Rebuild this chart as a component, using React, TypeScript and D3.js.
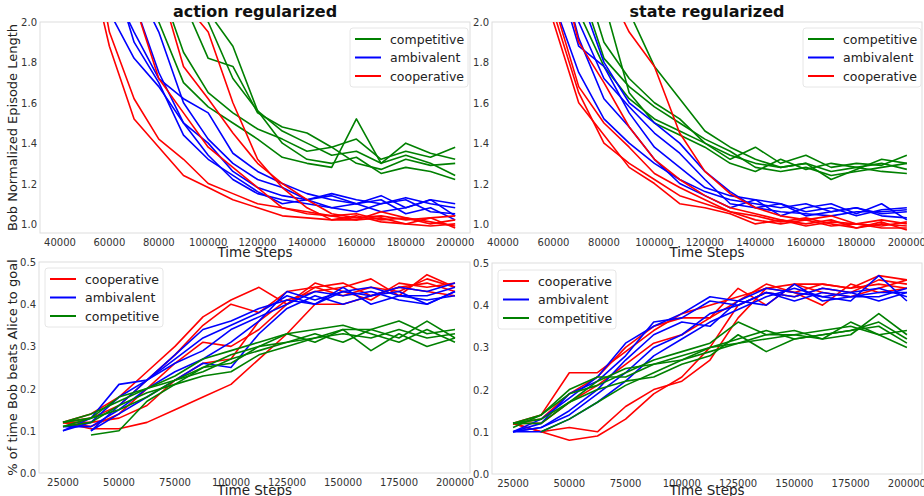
import React from "react";
import * as d3 from "d3";

const topX = [50000, 60000, 70000, 80000, 90000, 100000, 110000, 120000, 130000, 140000, 150000, 160000, 170000, 180000, 190000, 200000];
const botX = [25000, 37500, 50000, 62500, 75000, 87500, 100000, 112500, 125000, 137500, 150000, 162500, 175000, 187500, 200000];

const topXTicks = [40000, 60000, 80000, 100000, 120000, 140000, 160000, 180000, 200000];
const topYTicks = [1.0, 1.2, 1.4, 1.6, 1.8, 2.0];
const botXTicks = [25000, 50000, 75000, 100000, 125000, 150000, 175000, 200000];
const botYTicks = [0.0, 0.1, 0.2, 0.3, 0.4, 0.5];

const titles = ["action regularized", "state regularized"];
const topYLabel = "Bob Normalized Episode Length";
const botYLabel = "% of time Bob beats Alice to goal";
const xLabel = "Time Steps";

type Row = (number | null)[];

const tlGreen: Row[] = [
  [3.2, 3.0, 2.6, 2.2, 1.85, 1.65, 1.55, 1.47, 1.42, 1.36, 1.38, 1.42, 1.32, 1.36, 1.33, 1.38],
  [3.5, 3.2, 2.9, 2.5, 2.1, 1.82, 1.78, 1.55, 1.48, 1.45, 1.38, 1.30, 1.27, 1.32, 1.29, 1.30],
  [3.6, 3.4, 3.0, 2.6, 2.3, 2.0, 1.72, 1.56, 1.40, 1.32, 1.30, 1.33, 1.25, 1.28, 1.26, 1.22],
  [3.0, 2.8, 2.4, 2.0, 1.70, 1.58, 1.50, 1.42, 1.33, 1.30, 1.28, 1.52, 1.30, 1.34, 1.30, 1.24],
  [3.8, 3.6, 3.3, 3.0, 2.4, 2.05, 1.88, 1.56, 1.46, 1.40, 1.34, 1.36, 1.30, 1.40, 1.35, 1.32],
];
const tlBlue: Row[] = [
  [2.6, 2.05, 1.82, 1.68, 1.50, 1.40, 1.26, 1.18, 1.14, 1.12, 1.15, 1.12, 1.10, 1.13, 1.10, 1.08],
  [2.8, 2.2, 1.95, 1.72, 1.62, 1.55, 1.35, 1.26, 1.20, 1.15, 1.12, 1.10, 1.14, 1.08, 1.12, 1.10],
  [3.0, 2.5, 2.1, 1.75, 1.50, 1.34, 1.22, 1.15, 1.12, 1.10, 1.08, 1.06, 1.10, 1.12, 1.06, 1.05],
  [3.2, 2.6, 2.2, 1.95, 1.60, 1.42, 1.30, 1.22, 1.18, 1.12, 1.14, 1.10, 1.12, 1.05, 1.08, 1.02],
  [2.9, 2.3, 1.90, 1.70, 1.44, 1.32, 1.24, 1.16, 1.10, 1.12, 1.08, 1.10, 1.06, 1.08, 1.12, 1.04],
];
const tlRed: Row[] = [
  [2.4, 1.88, 1.52, 1.38, 1.24, 1.18, 1.12, 1.08, 1.04, 1.03, 1.02, 1.02, 1.03, 1.00, 0.99, 1.00],
  [2.6, 1.95, 1.62, 1.42, 1.32, 1.20, 1.15, 1.10, 1.08, 1.06, 1.04, 1.05, 1.02, 1.03, 1.01, 0.99],
  [3.0, 2.5, 2.1, 1.72, 1.55, 1.38, 1.28, 1.18, 1.08, 1.05, 1.04, 1.02, 1.06, 1.03, 1.00, 1.02],
  [3.4, 3.0, 2.6, 2.2, 1.78, 1.62, 1.45, 1.30, 1.20, 1.12, 1.05, 1.03, 1.04, 1.02, 1.03, 0.98],
  [3.6, 3.3, 2.9, 2.5, 2.1, 1.95, 1.60, 1.32, 1.18, 1.08, 1.02, 1.04, 1.01, 1.00, 1.03, 1.04],
];
const trGreen: Row[] = [
  [3.0, 2.5, 2.05, 1.78, 1.62, 1.52, 1.46, 1.40, 1.34, 1.30, 1.28, 1.30, 1.26, 1.28, 1.30, 1.27],
  [3.2, 2.7, 2.2, 1.82, 1.68, 1.58, 1.50, 1.42, 1.36, 1.28, 1.26, 1.28, 1.24, 1.26, 1.28, 1.30],
  [3.5, 3.0, 2.6, 2.1, 1.65, 1.50, 1.44, 1.38, 1.30, 1.26, 1.32, 1.27, 1.30, 1.28, 1.26, 1.25],
  [4.0, 3.6, 3.1, 2.6, 2.05, 1.78, 1.62, 1.46, 1.38, 1.32, 1.28, 1.30, 1.22, 1.27, 1.32, 1.30],
  [3.3, 2.8, 2.3, 1.90, 1.72, 1.60, 1.52, 1.40, 1.32, 1.38, 1.30, 1.34, 1.28, 1.30, 1.29, 1.34],
];
const trBlue: Row[] = [
  [2.6, 2.1, 1.75, 1.52, 1.40, 1.30, 1.22, 1.16, 1.12, 1.10, 1.08, 1.10, 1.06, 1.08, 1.05, 1.06],
  [2.8, 2.3, 1.88, 1.78, 1.55, 1.38, 1.28, 1.18, 1.14, 1.12, 1.10, 1.06, 1.08, 1.04, 1.07, 1.08],
  [3.2, 2.5, 2.0, 1.72, 1.58, 1.45, 1.35, 1.22, 1.10, 1.08, 1.10, 1.04, 1.06, 1.08, 1.04, 1.03],
  [3.0, 2.4, 1.92, 1.62, 1.48, 1.32, 1.20, 1.14, 1.08, 1.12, 1.04, 1.08, 1.10, 1.05, 1.10, 1.02],
  [3.4, 2.7, 2.15, 1.80, 1.60, 1.50, 1.40, 1.26, 1.16, 1.08, 1.06, 1.05, 1.04, 1.06, 1.06, 1.07],
];
const trRed: Row[] = [
  [2.5, 2.05, 1.65, 1.40, 1.30, 1.22, 1.14, 1.10, 1.06, 1.02, 1.00, 1.02, 0.99, 1.00, 0.98, 0.98],
  [2.7, 2.1, 1.68, 1.50, 1.38, 1.25, 1.18, 1.12, 1.06, 1.04, 1.01, 1.03, 1.00, 0.98, 1.00, 0.99],
  [2.6, 2.0, 1.60, 1.44, 1.28, 1.20, 1.10, 1.08, 1.05, 1.00, 1.02, 0.99, 1.01, 1.00, 0.99, 1.01],
  [3.8, 3.2, 2.6, 2.2, 1.95, 1.78, 1.45, 1.26, 1.15, 1.08, 1.04, 1.02, 1.04, 1.00, 1.02, 1.00],
  [3.0, 2.4, 1.90, 1.70, 1.48, 1.32, 1.22, 1.14, 1.08, 1.05, 1.02, 1.00, 1.02, 0.98, 1.01, 0.97],
];
const blRed: Row[] = [
  [0.12, 0.105, 0.105, 0.12, 0.15, 0.18, 0.21, 0.27, 0.33, 0.40, 0.40, 0.42, 0.44, 0.43, 0.42],
  [0.12, 0.14, 0.18, 0.24, 0.30, 0.37, 0.41, 0.44, 0.40, 0.44, 0.45, 0.42, 0.44, 0.45, 0.43],
  [0.12, 0.13, 0.16, 0.22, 0.28, 0.35, 0.40, 0.38, 0.43, 0.44, 0.42, 0.44, 0.43, 0.46, 0.44],
  [0.12, 0.11, 0.14, 0.20, 0.26, 0.31, 0.30, 0.34, 0.40, 0.45, 0.43, 0.41, 0.45, 0.44, 0.45],
  [0.12, 0.12, 0.13, 0.16, 0.22, 0.26, 0.27, 0.36, 0.41, 0.43, 0.44, 0.46, 0.42, 0.47, 0.44],
];
const blBlue: Row[] = [
  [null, 0.10, 0.16, 0.22, 0.27, 0.32, 0.35, 0.38, 0.42, 0.40, 0.43, 0.42, 0.44, 0.43, 0.45],
  [0.10, 0.13, 0.21, 0.22, 0.28, 0.34, 0.36, 0.39, 0.41, 0.40, 0.44, 0.40, 0.42, 0.42, 0.44],
  [0.10, 0.12, 0.18, 0.22, 0.26, 0.29, 0.34, 0.37, 0.40, 0.43, 0.42, 0.43, 0.41, 0.40, 0.43],
  [0.11, 0.11, 0.15, 0.20, 0.24, 0.27, 0.31, 0.36, 0.43, 0.41, 0.43, 0.44, 0.42, 0.41, 0.42],
  [null, 0.10, 0.14, 0.18, 0.22, 0.26, 0.25, 0.33, 0.39, 0.42, 0.40, 0.42, 0.43, 0.40, 0.43],
];
const blGreen: Row[] = [
  [0.12, 0.14, 0.17, 0.20, 0.22, 0.24, 0.27, 0.29, 0.31, 0.32, 0.33, 0.32, 0.34, 0.32, 0.33],
  [0.11, 0.12, 0.16, 0.19, 0.21, 0.25, 0.26, 0.30, 0.33, 0.34, 0.35, 0.33, 0.31, 0.34, 0.31],
  [null, 0.09, 0.10, 0.17, 0.21, 0.23, 0.24, 0.28, 0.30, 0.32, 0.34, 0.29, 0.33, 0.30, 0.32],
  [0.12, 0.13, 0.18, 0.20, 0.23, 0.27, 0.29, 0.31, 0.33, 0.31, 0.34, 0.34, 0.36, 0.33, 0.34],
  [0.11, 0.13, 0.15, 0.18, 0.22, 0.25, 0.28, 0.30, 0.31, 0.33, 0.31, 0.34, 0.32, 0.36, 0.32],
];
const brRed: Row[] = [
  [0.12, 0.10, 0.08, 0.09, 0.13, 0.19, 0.23, 0.30, 0.40, 0.43, 0.42, 0.44, 0.43, 0.46, 0.45],
  [0.12, 0.10, 0.11, 0.10, 0.16, 0.20, 0.22, 0.27, 0.37, 0.44, 0.45, 0.45, 0.44, 0.47, 0.46],
  [0.12, 0.14, 0.24, 0.24, 0.29, 0.34, 0.38, 0.40, 0.42, 0.44, 0.43, 0.45, 0.44, 0.45, 0.44],
  [0.12, 0.13, 0.19, 0.23, 0.30, 0.35, 0.37, 0.37, 0.44, 0.40, 0.45, 0.43, 0.42, 0.44, 0.46],
  [0.12, 0.12, 0.17, 0.21, 0.26, 0.31, 0.33, 0.37, 0.41, 0.45, 0.43, 0.40, 0.45, 0.43, 0.44],
];
const brBlue: Row[] = [
  [0.10, 0.12, 0.19, 0.22, 0.28, 0.36, 0.37, 0.41, 0.40, 0.43, 0.42, 0.44, 0.43, 0.44, 0.42],
  [0.10, 0.13, 0.18, 0.23, 0.31, 0.35, 0.38, 0.42, 0.41, 0.40, 0.45, 0.41, 0.42, 0.43, 0.43],
  [0.10, 0.11, 0.15, 0.20, 0.27, 0.33, 0.36, 0.35, 0.41, 0.44, 0.43, 0.42, 0.41, 0.47, 0.41],
  [0.10, 0.10, 0.13, 0.17, 0.22, 0.28, 0.32, 0.36, 0.39, 0.42, 0.44, 0.42, 0.43, 0.41, 0.43],
  [0.10, 0.11, 0.14, 0.19, 0.24, 0.30, 0.33, 0.38, 0.40, 0.43, 0.41, 0.43, 0.42, 0.42, 0.44],
];
const brGreen: Row[] = [
  [0.12, 0.14, 0.19, 0.21, 0.24, 0.27, 0.29, 0.31, 0.36, 0.33, 0.33, 0.34, 0.35, 0.33, 0.34],
  [0.11, 0.14, 0.20, 0.23, 0.23, 0.26, 0.28, 0.30, 0.32, 0.34, 0.32, 0.33, 0.34, 0.36, 0.32],
  [null, 0.10, 0.13, 0.17, 0.21, 0.24, 0.27, 0.30, 0.31, 0.33, 0.34, 0.32, 0.36, 0.33, 0.30],
  [0.12, 0.12, 0.17, 0.20, 0.22, 0.23, 0.26, 0.28, 0.33, 0.29, 0.32, 0.33, 0.34, 0.35, 0.31],
  [0.12, 0.13, 0.17, 0.22, 0.25, 0.26, 0.27, 0.29, 0.31, 0.32, 0.33, 0.32, 0.33, 0.38, 0.33],
];

const GREEN = "#008000", BLUE = "#0000ff", RED = "#ff0000";
const FONT = "DejaVu Sans, sans-serif";

type Group = { name: string; color: string; rows: Row[] };
type Panel = {
  left: number; right: number; top: number; bottom: number;
  xd: [number, number]; yd: [number, number];
  xs: number[]; xt: number[]; yt: number[];
  groups: Group[]; lx: number; ly: number;
  title?: string; ylabel?: string; xlabelY: number;
};

const topGroups = (g: Row[], b: Row[], r: Row[]): Group[] => [
  { name: "competitive", color: GREEN, rows: g },
  { name: "ambivalent", color: BLUE, rows: b },
  { name: "cooperative", color: RED, rows: r },
];
const botGroups = (g: Row[], b: Row[], r: Row[]): Group[] => [
  { name: "cooperative", color: RED, rows: r },
  { name: "ambivalent", color: BLUE, rows: b },
  { name: "competitive", color: GREEN, rows: g },
];

const panels: Panel[] = [
  { left: 40, right: 470, top: 22, bottom: 233, xd: [31900, 206000], yd: [0.955, 2.0], xs: topX, xt: topXTicks, yt: topYTicks, groups: topGroups(tlGreen, tlBlue, tlRed), lx: 350, ly: 28, title: titles[0], ylabel: topYLabel, xlabelY: 257 },
  { left: 492, right: 922, top: 22, bottom: 233, xd: [35650, 206000], yd: [0.955, 2.0], xs: topX, xt: topXTicks, yt: topYTicks, groups: topGroups(trGreen, trBlue, trRed), lx: 803, ly: 28, title: titles[1], xlabelY: 257 },
  { left: 39, right: 470, top: 262, bottom: 473, xd: [14300, 206700], yd: [0, 0.5], xs: botX, xt: botXTicks, yt: botYTicks, groups: botGroups(blGreen, blBlue, blRed), lx: 45, ly: 268, ylabel: botYLabel, xlabelY: 495 },
  { left: 492, right: 922, top: 263, bottom: 474, xd: [15650, 206700], yd: [0, 0.5], xs: botX, xt: botXTicks, yt: botYTicks, groups: botGroups(brGreen, brBlue, brRed), lx: 498, ly: 270, xlabelY: 495 },
];

function PanelView({ p, i }: { p: Panel; i: number }) {
  const x = d3.scaleLinear().domain(p.xd).range([p.left, p.right]);
  const y = d3.scaleLinear().domain(p.yd).range([p.bottom, p.top]);
  const line = d3.line<number | null>()
    .defined((d) => d !== null)
    .x((_, k) => x(p.xs[k]))
    .y((d) => y(d as number));
  const cx = (p.left + p.right) / 2;
  return (
    <g>
      <defs>
        <clipPath id={`clip${i}`}>
          <rect x={p.left} y={p.top} width={p.right - p.left} height={p.bottom - p.top} />
        </clipPath>
      </defs>
      <rect x={p.left} y={p.top} width={p.right - p.left} height={p.bottom - p.top} fill="white" stroke="#dddddd" strokeWidth={1} />
      <g clipPath={`url(#clip${i})`}>
        {p.groups.map((g) => g.rows.map((r, k) => (
          <path key={g.name + k} d={line(r) || ""} fill="none" stroke={g.color} strokeWidth={1.6} strokeLinejoin="round" />
        )))}
      </g>
      {p.xt.map((t) => (
        <text key={t} x={x(t)} y={p.bottom + 13} textAnchor="middle" fontSize={10} fill="#333" fontFamily={FONT}>{t}</text>
      ))}
      {p.yt.map((t) => (
        <text key={t} x={p.left - 3} y={y(t) + 4} textAnchor="end" fontSize={10} fill="#333" fontFamily={FONT}>{t.toFixed(1)}</text>
      ))}
      <text x={cx} y={p.xlabelY} textAnchor="middle" fontSize={13.5} fill="#222" fontFamily={FONT}>{xLabel}</text>
      {p.title && <text x={cx} y={17} textAnchor="middle" fontSize={16} fontWeight="bold" fill="#111" fontFamily={FONT}>{p.title}</text>}
      {p.ylabel && <text transform={`translate(17,${(p.top + p.bottom) / 2}) rotate(-90)`} textAnchor="middle" fontSize={13} fill="#222" fontFamily={FONT}>{p.ylabel}</text>}
      <g transform={`translate(${p.lx},${p.ly})`}>
        <rect x={0} y={0} width={118} height={59} rx={3} fill="white" fillOpacity={0.9} stroke="#e6e6e6" />
        {p.groups.map((g, k) => (
          <g key={g.name} transform={`translate(0,${11 + k * 18.5})`}>
            <line x1={5} x2={31} y1={0} y2={0} stroke={g.color} strokeWidth={2} />
            <text x={40} y={4.5} fontSize={12.5} fill="#222" fontFamily={FONT}>{g.name}</text>
          </g>
        ))}
      </g>
    </g>
  );
}

export default function App() {
  return (
    <svg width={924} height={496} style={{ position: "absolute", left: 0, top: 0 }}>
      <rect width={924} height={496} fill="white" />
      {panels.map((p, i) => <PanelView key={i} p={p} i={i} />)}
    </svg>
  );
}
